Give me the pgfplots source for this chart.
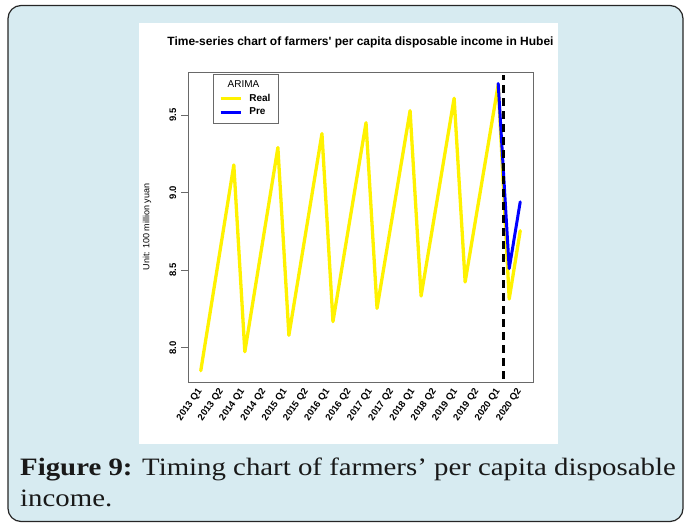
\documentclass[border=0pt]{standalone}
\usepackage{fontspec}
\setmainfont{Liberation Serif}
\newfontfamily\arial{Liberation Sans}
\usepackage{pgfplots}
\pgfplotsset{compat=1.18}
\definecolor{panel}{RGB}{215,235,241}
\definecolor{framegray}{RGB}{105,105,105}
\definecolor{captext}{RGB}{25,25,25}

\begin{document}
\begin{tikzpicture}
\useasboundingbox (0,0) rectangle (684bp,-523bp);
\filldraw[fill=panel, draw=black!85, line width=1.2bp, rounded corners=13bp] (8bp,-5.5bp) rectangle (683bp,-521.5bp);
\fill[white] (139bp,-23bp) rectangle (558bp,-444bp);

\begin{axis}[
  at={(188bp,-382bp)}, anchor=south west,
  scale only axis, width=345bp, height=310bp,
  xmin=-1.16, xmax=30.16, ymin=7.779, ymax=9.777,
  axis line style={framegray, line width=0.8bp},
  /pgf/number format/assume math mode=true,
  xtick pos=bottom, ytick pos=left,
  xtick={0,1.93333,3.86667,5.8,7.73333,9.66667,11.6,13.53333,15.46667,17.4,19.33333,21.26667,23.2,25.13333,27.06667,29},
  xticklabels={2013 Q1,2013 Q2,2014 Q1,2014 Q2,2015 Q1,2015 Q2,2016 Q1,2016 Q2,2017 Q1,2017 Q2,2018 Q1,2018 Q2,2019 Q1,2019 Q2,2020 Q1,2020 Q2},
  x tick label style={rotate=55, anchor=east, inner sep=1bp, font=\arial\bfseries\fontsize{9.5bp}{11bp}\selectfont},
  xtick style={draw=none},
  ytick={8,8.5,9,9.5},
  y tick label style={rotate=90, anchor=south, inner sep=1bp, font=\arial\bfseries\fontsize{9.5bp}{11bp}\selectfont,
    /pgf/number format/.cd, fixed, fixed zerofill, precision=1},
  yticklabel shift=3.5bp,
  ytick style={framegray, line width=0.8bp},
  tick align=outside, major tick length=7bp,
  title={Time-series chart of farmers\textquotesingle\ per capita disposable income in Hubei},
  title style={font=\arial\bfseries\fontsize{12bp}{14bp}\selectfont, at={(0.5,1)}, anchor=base, yshift=20.3bp, inner sep=0pt},
  ylabel={Unit: 100 million yuan},
  every axis y label/.style={at={(axis description cs:-0.1188,0.5)}, rotate=90, anchor=center, font=\arial\fontsize{9bp}{10bp}\selectfont},
  legend style={at={(axis description cs:0.0716,0.9935)}, anchor=north west, draw=framegray, line width=0.7bp, fill=white,
    inner xsep=6bp, inner ysep=4.5bp, row sep=1bp, column sep=4.3bp,
    font=\arial\bfseries\fontsize{10bp}{12bp}\selectfont, nodes={inner sep=2bp}},
  legend cell align=left,
  legend image code/.code={\draw[#1, line cap=butt] (0bp,0bp) -- (20.7bp,0bp);},
]
\addlegendimage{empty legend}
\addlegendentry{\hspace*{-21.7bp}{\mdseries ARIMA}\rule[-5.5bp]{0pt}{5.5bp}}
\addplot[yellow, line width=3.3bp, line join=round, line cap=round] coordinates {
(0,7.852) (1,8.294) (2,8.736) (3,9.178)
(4,7.974) (5,8.413) (6,8.851) (7,9.290)
(8,8.080) (9,8.513) (10,8.947) (11,9.380)
(12,8.168) (13,8.595) (14,9.023) (15,9.450)
(16,8.254) (17,8.679) (18,9.103) (19,9.528)
(20,8.333) (21,8.758) (22,9.183) (23,9.608)
(24,8.424) (25,8.848) (26,9.271) (27,9.695)
(28,8.314) (29,8.754)
};
\addlegendentry{Real}
\addplot[blue, line width=3bp, line join=round, line cap=round] coordinates {(27,9.703) (28,8.510) (29,8.940)};
\addlegendentry{Pre}
\addplot[black, line width=2.6bp, dash pattern=on 8bp off 5bp, forget plot] coordinates {(27.5,7.80) (27.5,9.76)};
\end{axis}

\node[anchor=base west, inner sep=0pt, text=captext] at (20bp,-475bp)
  {\scalebox{1.153}[1]{\fontsize{25bp}{30bp}\selectfont\textbf{Figure 9:} Timing chart of farmers’ per capita disposable}};
\node[anchor=base west, inner sep=0pt, text=captext] at (20bp,-506bp)
  {\scalebox{1.153}[1]{\fontsize{25bp}{30bp}\selectfont income.}};
\end{tikzpicture}
\end{document}
